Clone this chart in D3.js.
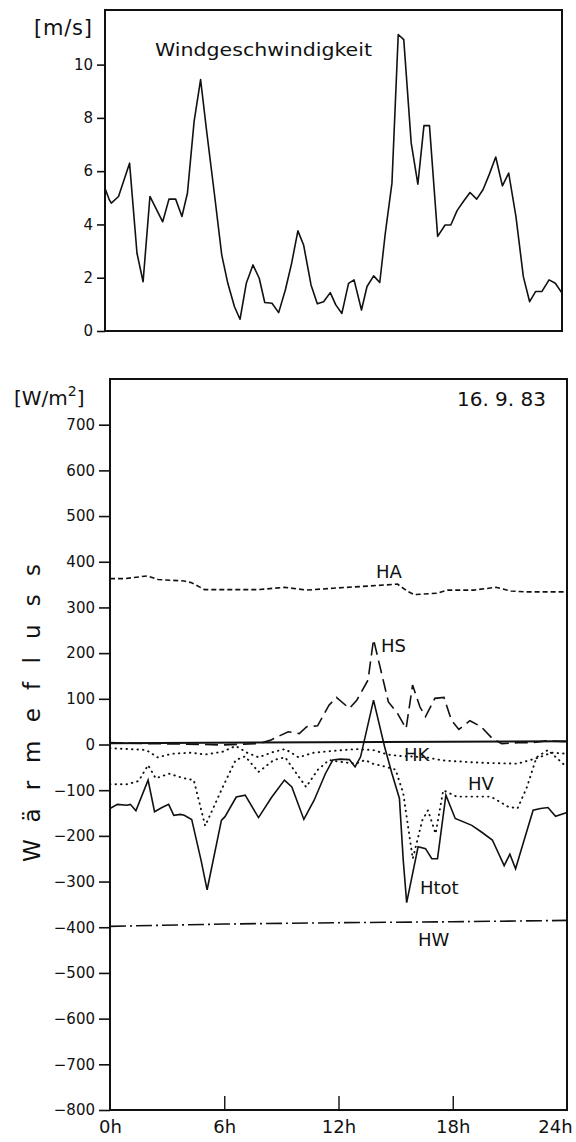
<!DOCTYPE html>
<html>
<head>
<meta charset="utf-8">
<script src="https://cdn.jsdelivr.net/npm/d3@7"></script>
<style>
  body { margin: 0; background: #fff; }
  svg { display: block; }
  text { font-family: "DejaVu Sans", sans-serif; fill: #111; font-variant-ligatures: none; }
</style>
</head>
<body>
<script>

// DATI: VENTO
//
var windHours = [0, 0.23, 0.33, 0.71, 1.29, 1.68, 2.0, 2.36, 3.03, 3.36, 3.71, 4.04, 4.33, 4.68, 5.02, 5.35, 5.74,
  6.13, 6.45, 6.8, 7.09, 7.42, 7.77, 8.1, 8.39, 8.77, 9.12, 9.47, 9.8, 10.13, 10.43, 10.82, 11.15, 11.48, 11.83,
  12.12, 12.44, 12.79, 13.08, 13.47, 13.76, 14.11, 14.43, 14.72, 15.07, 15.4, 15.69, 16.08, 16.43, 16.75, 17.04,
  17.47, 17.86, 18.16, 18.49, 18.82, 19.17, 19.52, 19.85, 20.17, 20.52, 20.87, 21.2, 21.58, 21.97, 22.3, 22.61,
  22.94, 23.32, 23.65, 24];
var windSpeed = [5.36, 4.92, 4.8, 5.05, 6.3, 2.92, 1.85, 5.05, 4.1, 4.95, 4.95, 4.3, 5.18, 7.87, 9.44, 7.43, 5.18,
  2.86, 1.79, 0.91, 0.44, 1.79, 2.48, 1.98, 1.07, 1.04, 0.69, 1.54, 2.54, 3.76, 3.23, 1.73, 1.02, 1.1, 1.44,
  0.98, 0.66, 1.79, 1.92, 0.79, 1.67, 2.07, 1.82, 3.67, 5.55, 11.13, 10.94, 7.06, 5.51, 7.71, 7.71,
  3.55, 3.98, 3.98, 4.52, 4.86, 5.2, 4.95, 5.3, 5.86, 6.53, 5.45, 5.93, 4.3, 2.04, 1.1, 1.48,
  1.48, 1.92, 1.79, 1.42];
var windTicks = [0, 2, 4, 6, 8, 10];

// DATI: WAERMEFLUSS
//
var haHours = [0, 0.78, 1.95, 2.53, 3.9, 4.29, 4.97, 5.85, 7.8, 9.16, 10.33, 11.7, 13.65, 15.1, 15.6, 15.98, 17.15, 17.74, 19.1, 20.27, 21.05, 21.8, 24];
var haValues = [363, 363, 369, 361, 358, 354, 339, 339, 339, 344, 338, 342, 347, 351, 336, 328, 331, 338, 338, 344, 336, 334, 334];

var hsHours = [0, 1.95, 3.9, 5.85, 7.8, 8.4, 9.36, 9.94, 10.33, 10.9, 11.5, 11.89, 12.57, 12.96, 13.55, 13.84, 14.62, 15.1, 15.55,
  15.89, 16.28, 16.57, 17.06, 17.54, 17.93, 18.32, 18.9, 19.49, 20.08, 20.57, 21.44, 22.22, 22.9, 24];
var hsValues = [4, 2, 1, -1, 2, 9, 28, 24, 39, 41, 86, 103, 79, 97, 141, 230, 93, 68, 35,
  130, 82, 61, 101, 103, 53, 33, 52, 39, 13, 2, 4, 4, 8, 6];

var hkHours = [0, 1, 1.9, 2.5, 3.3, 4.3, 5.0, 5.9, 6.6, 7.2, 7.8, 8.6, 9.2, 9.9, 10.7, 11.7, 12.9, 13.8, 14.6, 15.2, 16.6, 17.5, 19.5, 21.4, 22.4, 23.2, 24];
var hkValues = [-8, -10, -12, -28, -20, -18, -22, -16, -3, -18, -28, -16, -10, -28, -18, -14, -10, -12, -22, -25, -28, -35, -40, -42, -30, -18, -20];

var hvHours = [0, 0.9, 1.5, 2.0, 2.4, 3.1, 3.9, 4.4, 5.0, 5.9, 6.6, 7.1, 7.8, 8.6, 9.2, 9.8, 10.3, 10.9, 11.5, 12.1, 12.9, 13.4, 13.8,
  14.4, 15.0, 15.4, 15.9, 16.4, 16.7, 17.1, 17.5, 18.2, 19.2, 20.0, 20.9, 21.4, 21.9, 22.4, 23.0, 24];
var hvValues = [-87, -87, -80, -45, -74, -64, -74, -78, -178, -95, -34, -26, -60, -34, -28, -64, -93, -56, -34, -38, -42, -34, -42,
  -48, -55, -107, -250, -166, -144, -195, -100, -114, -114, -114, -136, -140, -93, -28, -12, -50];

var htotHours = [0, 0.39, 0.88, 1.07, 1.36, 2.0, 2.34, 2.73, 3.08, 3.35, 3.7, 3.9, 4.29, 4.78, 5.1, 5.85, 6.04, 6.63, 7.1, 7.8,
  8.48, 9.16, 9.55, 10.18, 10.72, 11.31, 11.7, 12.09, 12.57, 12.87, 13.16, 13.84, 14.42, 14.81, 15.2, 15.4, 15.58,
  16.18, 16.57, 16.9, 17.2, 17.64, 18.13, 19.0, 19.49, 20.08, 20.7, 21.0, 21.3, 21.6, 22.22, 22.61, 23.0, 23.4, 24];
var htotValues = [-140, -131, -133, -131, -145, -78, -147, -138, -131, -155, -153, -155, -164, -253, -318, -166, -158, -115, -111, -160,
  -116, -78, -93, -164, -122, -64, -34, -32, -33, -49, -27, 97, -5, -64, -118, -253, -346,
  -224, -228, -250, -250, -111, -162, -177, -191, -209, -265, -240, -272, -230, -144, -140, -138, -157, -149];

var hwHours = [0, 6, 12, 18, 24];
var hwValues = [-398, -393, -390, -388, -385];

var fluxTicks = [700, 600, 500, 400, 300, 200, 100, 0, -100, -200, -300, -400, -500, -600, -700, -800];
var hourTicks = [0, 6, 12, 18, 24];
var hourLabels = ["0h", "6h", "12h", "18h", "24h"];

// SERIE DEL PANNELLO INFERIORE
//
var fluxSeries = [
  { name: "HA", hours: haHours, values: haValues, dash: "5,3", dotted: false, label: [376, 578] },
  { name: "HS", hours: hsHours, values: hsValues, dash: "13,6", dotted: false, label: [381, 652] },
  { name: "HK", hours: hkHours, values: hkValues, dash: "0.5,5", dotted: true, label: [404, 761] },
  { name: "HV", hours: hvHours, values: hvValues, dash: "0.5,5", dotted: true, label: [468, 790] },
  { name: "Htot", hours: htotHours, values: htotValues, dash: null, dotted: false, label: [420, 894] },
  { name: "HW", hours: hwHours, values: hwValues, dash: "16,4,2,4", dotted: false, label: [418, 946] }
];

var width = 576;
var height = 1142;

var svg = d3.select("body").append("svg")
  .attr("width", width)
  .attr("height", height);

// PANNELLO SUPERIORE: VENTO
//
var xTop = d3.scaleLinear().domain([0, 24]).range([105, 562]);
var yTop = d3.scaleLinear().domain([0, 12.05]).range([331, 10]);

var topPanel = svg.append("g");

topPanel.append("rect")
  .attr("x", xTop(0)).attr("y", yTop(12.05))
  .attr("width", xTop(24) - xTop(0)).attr("height", yTop(0) - yTop(12.05))
  .attr("fill", "none").attr("stroke", "#111").attr("stroke-width", 2);

topPanel.append("g")
  .attr("transform", "translate(" + xTop(0) + ",0)")
  .call(d3.axisLeft(yTop).tickValues(windTicks).tickSize(8).tickPadding(4).tickFormat(d3.format("d")))
  .call(g => g.select(".domain").remove())
  .call(g => g.selectAll("line").attr("stroke", "#111").attr("stroke-width", 1.6))
  .call(g => g.selectAll("text").attr("font-size", 15).attr("font-family", "DejaVu Sans").attr("fill", "#111"));

var windLine = d3.line()
  .x((d, i) => xTop(windHours[i]))
  .y(d => yTop(d));

topPanel.append("path")
  .datum(windSpeed)
  .attr("d", windLine)
  .attr("fill", "none")
  .attr("stroke", "#111")
  .attr("stroke-width", 1.6)
  .attr("stroke-linejoin", "round");

topPanel.append("text")
  .attr("x", 34).attr("y", 35)
  .attr("font-size", 21)
  .attr("textLength", 58)
  .attr("lengthAdjust", "spacing")
  .text("[m/s]");

topPanel.append("text")
  .attr("x", 155).attr("y", 56)
  .attr("font-size", 18)
  .attr("textLength", 217)
  .attr("lengthAdjust", "spacingAndGlyphs")
  .text("Windgeschwindigkeit");

// PANNELLO INFERIORE: WAERMEFLUSS
//
var xBot = d3.scaleLinear().domain([0, 24]).range([110, 567]);
var yBot = d3.scaleLinear().domain([-800, 800]).range([1110, 379]);

var bot = svg.append("g");

bot.append("rect")
  .attr("x", xBot(0)).attr("y", yBot(800))
  .attr("width", xBot(24) - xBot(0)).attr("height", yBot(-800) - yBot(800))
  .attr("fill", "none").attr("stroke", "#111").attr("stroke-width", 2);

bot.append("g")
  .attr("transform", "translate(" + xBot(0) + ",0)")
  .call(d3.axisLeft(yBot).tickValues(fluxTicks).tickSize(11).tickPadding(4).tickFormat(d => d < 0 ? "\u2212" + Math.abs(d) : d))
  .call(g => g.select(".domain").remove())
  .call(g => g.selectAll("line").attr("stroke", "#111").attr("stroke-width", 1.6))
  .call(g => g.selectAll("text").attr("font-size", 15).attr("font-family", "DejaVu Sans").attr("fill", "#111"));

// TICK INTERNI SULL'ASSE DEL TEMPO
//
bot.append("g")
  .attr("transform", "translate(0," + yBot(-800) + ")")
  .call(d3.axisBottom(xBot).tickValues(hourTicks).tickSize(-14).tickPadding(10).tickFormat((d, i) => hourLabels[i]))
  .call(g => g.select(".domain").remove())
  .call(g => g.selectAll("line").attr("stroke", "#111").attr("stroke-width", 1.4))
  .call(g => g.selectAll(".tick").filter(d => d == 0 || d == 24).select("line").remove())
  .call(g => g.selectAll("text").attr("font-size", 18).attr("font-family", "DejaVu Sans").attr("fill", "#111"));

bot.selectAll(".tick text").filter(d => d == 24).attr("dx", -12);

// LINEA DELLO ZERO
//
bot.append("line")
  .attr("x1", xBot(0)).attr("x2", xBot(24))
  .attr("y1", yBot(3)).attr("y2", yBot(7))
  .attr("stroke", "#111").attr("stroke-width", 2);

var fluxLine = d3.line()
  .x(d => xBot(d[0]))
  .y(d => yBot(d[1]));

fluxSeries.forEach(s => {
  var pts = s.hours.map((h, i) => [h, s.values[i]]);
  bot.append("path")
    .datum(pts)
    .attr("d", fluxLine)
    .attr("fill", "none")
    .attr("stroke", "#111")
    .attr("stroke-width", s.dotted ? 1.9 : 1.6)
    .attr("stroke-linecap", s.dotted ? "round" : "butt")
    .attr("stroke-dasharray", s.dash);

  bot.append("text")
    .attr("x", s.label[0]).attr("y", s.label[1])
    .attr("font-size", 18)
    .text(s.name);
});

bot.append("text")
  .attr("x", 14).attr("y", 405)
  .attr("font-size", 20)
  .html("[W/m<tspan dy='-9' font-size='14'>2</tspan><tspan dy='9'>]</tspan>");

bot.append("text")
  .attr("x", 546).attr("y", 406)
  .attr("text-anchor", "end")
  .attr("font-size", 20)
  .text("16. 9. 83");

bot.append("text")
  .attr("transform", "translate(40,862) rotate(-90)")
  .attr("font-size", 23)
  .attr("textLength", 298)
  .attr("lengthAdjust", "spacing")
  .text("Wärmefluss");

</script>
</body>
</html>
